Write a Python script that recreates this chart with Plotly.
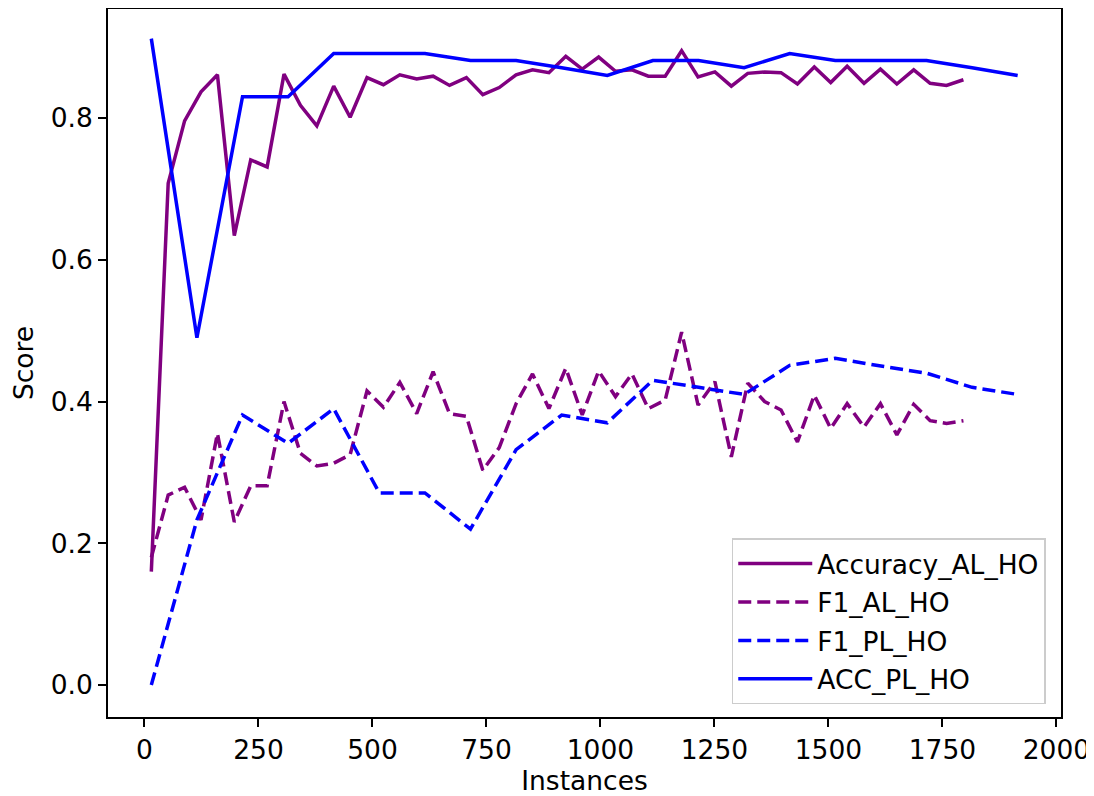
import plotly.graph_objects as go

# Active-learning series (x = instances)
x_al = [15, 52, 88, 124, 160, 197, 233, 269, 306, 342, 378, 415, 451, 488, 524,
        560, 597, 633, 669, 706, 742, 778, 815, 851, 887, 924, 960, 996, 1033,
        1069, 1105, 1142, 1178, 1214, 1251, 1287, 1323, 1360, 1396, 1432, 1469,
        1505, 1541, 1578, 1614, 1650, 1687, 1723, 1759, 1796]
acc_al = [0.16, 0.708, 0.796, 0.837, 0.861, 0.634, 0.741, 0.731, 0.862, 0.818,
          0.789, 0.845, 0.801, 0.857, 0.847, 0.861, 0.855, 0.859, 0.846, 0.857,
          0.833, 0.843, 0.861, 0.868, 0.864, 0.887, 0.869, 0.886, 0.866, 0.868,
          0.859, 0.859, 0.895, 0.858, 0.865, 0.845, 0.863, 0.865, 0.864, 0.848,
          0.872, 0.850, 0.873, 0.849, 0.869, 0.848, 0.868, 0.849, 0.846, 0.854]
f1_al = [0.18, 0.268, 0.279, 0.233, 0.355, 0.230, 0.281, 0.281, 0.400, 0.327,
         0.309, 0.313, 0.325, 0.415, 0.392, 0.427, 0.383, 0.442, 0.383, 0.379,
         0.303, 0.335, 0.397, 0.439, 0.390, 0.447, 0.381, 0.443, 0.407, 0.439,
         0.390, 0.402, 0.498, 0.395, 0.428, 0.322, 0.426, 0.400, 0.388, 0.343,
         0.409, 0.362, 0.397, 0.364, 0.397, 0.353, 0.396, 0.373, 0.369, 0.373]

# Passive-learning series
x_pl = [15, 115, 215, 315, 415, 515, 615, 715, 815, 915, 1015, 1115, 1215,
        1315, 1415, 1515, 1615, 1715, 1815, 1915]
f1_pl = [0.0, 0.233, 0.381, 0.341, 0.39, 0.271, 0.271, 0.22, 0.332, 0.381,
         0.37, 0.43, 0.42, 0.41, 0.451, 0.461, 0.45, 0.44, 0.42, 0.41]
acc_pl = [0.912, 0.49, 0.83, 0.83, 0.891, 0.891, 0.891, 0.881, 0.881, 0.871,
          0.86, 0.881, 0.881, 0.871, 0.891, 0.881, 0.881, 0.881, 0.871, 0.86]

x_ticks = [0, 250, 500, 750, 1000, 1250, 1500, 1750, 2000]
y_ticks = [0.0, 0.2, 0.4, 0.6, 0.8]

PURPLE = "#800080"
BLUE = "#0000FF"
LW = 3.5
DASH = "13px,6px"
FONT = "DejaVu Sans"
FS = 26.5

fig = go.Figure()
fig.add_trace(go.Scatter(x=x_al, y=acc_al, mode="lines", name="Accuracy_AL_HO",
                         legendgroup="a", line=dict(color=PURPLE, width=LW)))
fig.add_trace(go.Scatter(x=x_al, y=f1_al, mode="lines", name="F1_AL_HO",
                         legendgroup="b", line=dict(color=PURPLE, width=LW, dash=DASH)))
fig.add_trace(go.Scatter(x=x_pl, y=f1_pl, mode="lines", name="F1_PL_HO",
                         legendgroup="c", line=dict(color=BLUE, width=LW, dash=DASH)))
fig.add_trace(go.Scatter(x=x_pl, y=acc_pl, mode="lines", name="ACC_PL_HO",
                         legendgroup="d", line=dict(color=BLUE, width=LW)))

axis_common = dict(showline=True, linecolor="black", linewidth=1.6, mirror=True,
                   ticks="outside", ticklen=8, tickwidth=1.6, tickcolor="black",
                   showgrid=False, zeroline=False, automargin=False,
                   tickfont=dict(family=FONT, size=FS, color="black"))

fig.update_xaxes(range=[-80, 2010], tickvals=x_ticks,
                 ticktext=[str(v) for v in x_ticks],
                 title=dict(text="Instances", font=dict(family=FONT, size=FS, color="black"),
                            standoff=5),
                 **axis_common)
fig.update_yaxes(range=[-0.0451, 0.9538], tickvals=y_ticks,
                 ticktext=[f"{v:.1f}" for v in y_ticks],
                 title=dict(text="Score", font=dict(family=FONT, size=FS, color="black"),
                            standoff=12),
                 **axis_common)

fig.update_layout(
    width=1086, height=788,
    margin=dict(l=100, r=33, t=1, b=79),
    plot_bgcolor="white", paper_bgcolor="white",
    font=dict(family=FONT, size=FS, color="black"),
    legend=dict(x=0.984, y=0.018, xanchor="right", yanchor="bottom",
                bgcolor="rgba(255,255,255,0.8)", bordercolor="#cccccc", borderwidth=1.5,
                font=dict(family=FONT, size=FS, color="black"),
                tracegroupgap=1, itemwidth=74),
    showlegend=True,
)

fig.write_html("out.html")
